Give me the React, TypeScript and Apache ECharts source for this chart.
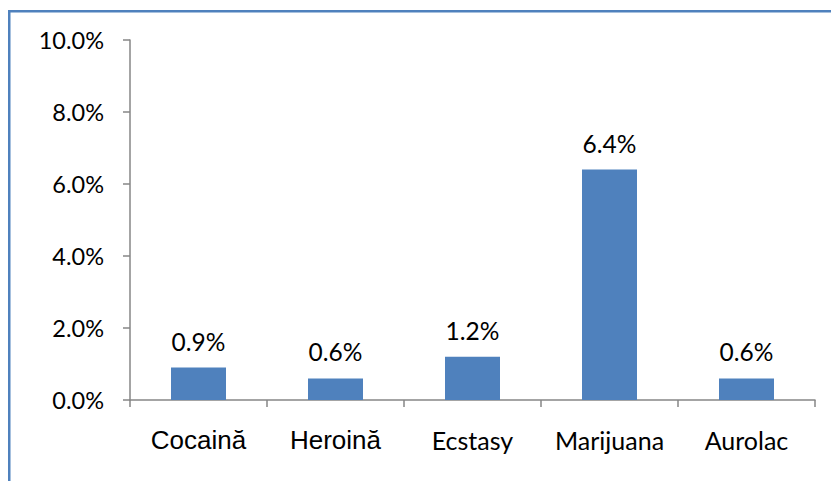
import React, { useEffect, useRef } from "react";
import * as echarts from "echarts";

const categories = ["Cocaină", "Heroină", "Ecstasy", "Marijuana", "Aurolac"];
const values = [0.9, 0.6, 1.2, 6.4, 0.6];
const arialCategories = ["Cocaină", "Heroină"];

export default function App() {
  const ref = useRef<HTMLDivElement>(null);
  useEffect(() => {
    if (!ref.current) return;
    const chart = echarts.init(ref.current, undefined, { renderer: "svg" });
    chart.setOption({
      animation: false,
      backgroundColor: "#ffffff",
      grid: { left: 130, right: 16, top: 40, bottom: 81 },
      xAxis: {
        type: "category",
        data: categories,
        axisLine: { lineStyle: { color: "#868686", width: 1.5 } },
        axisTick: { show: true, length: 7, lineStyle: { color: "#868686", width: 1.5 } },
        axisLabel: {
          margin: 27,
          formatter: (v: string) => (arialCategories.includes(v) ? `{a|${v}}` : `{c|${v}}`),
          rich: {
            a: { fontFamily: "Liberation Sans, Arial", fontSize: 26, color: "#000" },
            c: { fontFamily: "Lato", fontSize: 25, color: "#000" },
          },
        },
      },
      yAxis: {
        type: "value",
        min: 0,
        max: 10,
        interval: 2,
        splitLine: { show: false },
        axisLine: { show: true, lineStyle: { color: "#868686", width: 1.5 } },
        axisTick: { show: true, length: 7, lineStyle: { color: "#868686", width: 1.5 } },
        axisLabel: {
          margin: 26,
          formatter: (v: number) => v.toFixed(1) + "%",
          fontFamily: "Lato",
          fontSize: 23.5,
          color: "#000",
        },
      },
      series: [
        {
          type: "bar",
          data: values,
          barWidth: 55,
          itemStyle: { color: "#4F81BD" },
          label: {
            show: true,
            position: "top",
            distance: 14,
            formatter: (p: any) => p.value.toFixed(1) + "%",
            fontFamily: "Lato",
            fontSize: 24.5,
            color: "#000",
          },
        },
      ],
      graphic: [
        { type: "rect", shape: { x: 8, y: 10, width: 2.5, height: 471 }, style: { fill: "#4F81BD" } },
        { type: "rect", shape: { x: 8, y: 10, width: 823, height: 2.5 }, style: { fill: "#4F81BD" } },
      ],
    });
    return () => chart.dispose();
  }, []);
  return (
    <div
      ref={ref}
      style={{ position: "absolute", left: 0, top: 0, width: 831, height: 481 }}
    />
  );
}
